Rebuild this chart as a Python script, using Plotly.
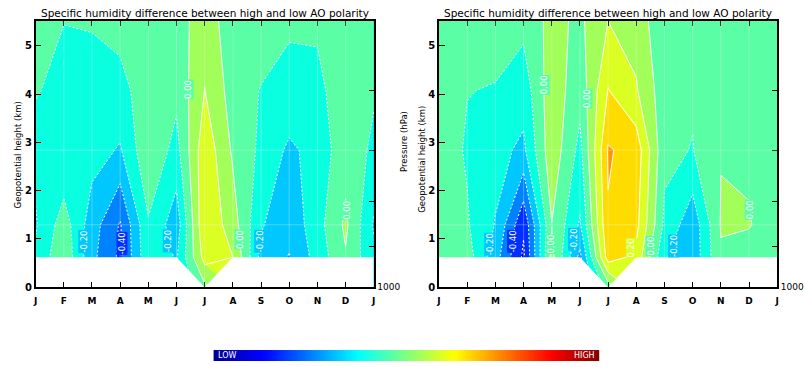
import numpy as np
import plotly.graph_objects as go

# ---------------------------------------------------------------- data
months = ["J", "F", "M", "A", "M", "J", "J", "A", "S", "O", "N", "D", "J"]
pressure_levels = [1000, 925, 850, 700, 600, 500]          # hPa, rows of the grids
pressure_ticks = [1000, 900, 800, 700, 600]                # right-hand axis ticks
pressure_tick_text = ["1000", "", "", "", ""]
height_ticks = [0, 1, 2, 3, 4, 5]                          # km
surface_pressure = [925, 925, 925, 925, 925, 925, 1000, 925, 925, 925, 925, 925, 925]

# specific humidity difference (high minus low AO), left panel
left_1000 = [-0.18, -0.02, -0.274, -0.42, -0.12, -0.21, -0.02, 0.10, -0.23, -0.305, -0.159, -0.01, -0.18]
left_925 = [-0.18, -0.02, -0.274, -0.42, -0.12, -0.21, 0.14, 0.10, -0.23, -0.305, -0.159, -0.01, -0.18]
left_850 = [-0.21, -0.05, -0.253, -0.41, -0.11, -0.258, 0.19, 0.047, -0.19, -0.27, -0.14, 0.02, -0.21]
left_700 = [-0.17, -0.19, -0.16, -0.21, -0.02, -0.134, 0.17, -0.015, -0.121, -0.22, -0.163, -0.037, -0.12]
left_600 = [-0.088, -0.15, -0.15, -0.13, -0.05, -0.076, 0.102, -0.044, -0.105, -0.125, -0.13, -0.03, -0.089]
left_500 = [-0.05, -0.097, -0.09, -0.069, -0.04, -0.05, 0.06, -0.062, -0.05, -0.089, -0.082, -0.04, -0.05]

# right panel
right_1000 = [-0.06, -0.053, -0.257, -0.52, 0.03, -0.33, -0.05, 0.17, -0.19, -0.27, -0.0094, -0.045, -0.06]
right_925 = [-0.06, -0.053, -0.257, -0.52, 0.03, -0.33, 0.25, 0.17, -0.19, -0.27, -0.0094, -0.045, -0.06]
right_850 = [-0.06, -0.09, -0.205, -0.483, -0.002, -0.211, 0.291, 0.23, -0.12, -0.267, 0.006, 0.0067, -0.06]
right_700 = [-0.05, -0.11, -0.17, -0.22, 0.066, -0.13, 0.31, 0.26, -0.077, -0.104, -0.003, -0.014, -0.05]
right_600 = [-0.05, -0.098, -0.105, -0.16, 0.062, -0.065, 0.205, 0.11, -0.06, -0.089, -0.04, -0.04, -0.05]
right_500 = [-0.05, -0.08, -0.065, -0.07, 0.03, -0.02, 0.10, 0.06, -0.08, -0.06, -0.05, -0.05, -0.05]

# contour labels: (level, height in km, approximate month index)
left_labels = [(-0.2, 0.95, 1.9), (-0.4, 0.9, 3.0), (-0.2, 0.95, 4.5), (0.0, 1.0, 7.0),
               (-0.2, 0.95, 8.1), (0.0, 4.1, 5.5), (0.0, 1.6, 11.2)]
right_labels = [(-0.2, 0.9, 1.9), (-0.4, 0.95, 2.9), (0.0, 0.9, 3.9), (-0.2, 1.0, 4.8),
                (0.2, 0.8, 7.2), (0.0, 0.85, 7.5), (-0.2, 0.85, 8.2), (0.0, 4.2, 3.6),
                (0.0, 3.9, 5.2), (0.0, 1.6, 10.6)]

TITLE = "Specific humidity difference between high and low AO polarity"

# ---------------------------------------------------------------- helpers
SCALE_HEIGHT = 7.96  # km, pressure -> geopotential height


def to_height(p):
    return SCALE_HEIGHT * np.log(1000.0 / np.asarray(p, dtype=float))


heights = to_height(pressure_levels)
top = float(heights[-1])
x_idx = np.arange(len(months))
surface = to_height(surface_pressure)

LEVEL_START, LEVEL_END, LEVEL_STEP = -0.5, 0.3, 0.1
band_colors = ["#0000dc", "#0030ff", "#0082ff", "#00c8ff", "#0affe1",
               "#5affa5", "#a2ff5a", "#dcff23", "#ffdc00", "#ff9600"]
band_scale = [[k / (len(band_colors) - 1), c] for k, c in enumerate(band_colors)]

jet = [[0.0, "rgb(0,0,140)"], [0.12, "rgb(0,0,255)"], [0.14, "rgb(0,10,255)"],
       [0.375, "rgb(0,255,255)"], [0.5, "rgb(128,255,128)"], [0.625, "rgb(255,255,0)"],
       [0.875, "rgb(255,0,0)"], [1.0, "rgb(128,0,0)"]]

W, H = 804, 367          # figure size
GRID_W, GRID_H = 799, 362  # pixel grid used to place panels and text
FONT = "DejaVu Sans"


def fx(px):
    return px / GRID_W


def fy(py):
    return max(0.0, 1.0 - py / GRID_H)


def band_color(value):
    k = int(np.floor((value - LEVEL_START) / LEVEL_STEP + 1e-9)) + 1
    return band_colors[min(max(k, 0), len(band_colors) - 1)]


def label_x(z, level, h, guess):
    """Month position where the interpolated field at height h crosses level."""
    row = np.array([np.interp(h, heights, z[:, j]) for j in range(z.shape[1])])
    best = guess
    best_d = np.inf
    for i in range(len(row) - 1):
        a, b = row[i] - level, row[i + 1] - level
        if a == b or a * b > 0:
            continue
        xc = i + a / (a - b)
        if abs(xc - guess) < best_d:
            best, best_d = xc, abs(xc - guess)
    return best


panels = [
    dict(grid=[left_1000, left_925, left_850, left_700, left_600, left_500],
         labels=left_labels, xa="x", ya="y", ya2="y2", px=(33, 375)),
    dict(grid=[right_1000, right_925, right_850, right_700, right_600, right_500],
         labels=right_labels, xa="x2", ya="y3", ya2="y4", px=(441, 783)),
]

fig = go.Figure()
shapes = []
annotations = []

for pnl in panels:
    z = np.array(pnl["grid"], dtype=float)
    xa, ya = pnl["xa"], pnl["ya"]

    # filled bands
    fig.add_trace(go.Contour(
        x=x_idx, y=heights, z=z, xaxis=xa, yaxis=ya,
        autocontour=False, colorscale=band_scale, showscale=False,
        contours=dict(start=LEVEL_START, end=LEVEL_END, size=LEVEL_STEP,
                      coloring="fill", showlines=False),
        line=dict(width=0, smoothing=0), hoverinfo="skip"))

    # contour lines: dashed for negative levels, solid otherwise
    for start, end, dash in [(-0.5, -0.1, "2px,2px"), (0.0, 0.3, "solid")]:
        fig.add_trace(go.Contour(
            x=x_idx, y=heights, z=z, xaxis=xa, yaxis=ya,
            autocontour=False, showscale=False,
            contours=dict(start=start, end=end, size=LEVEL_STEP, coloring="none",
                          showlines=True),
            line=dict(color="white", width=1, dash=dash, smoothing=0),
            hoverinfo="skip"))

    # faint grid seams along months and the 850/700 hPa rows
    for i, xm in enumerate(x_idx[1:-1], start=1):
        shapes.append(dict(type="line", xref=xa, yref=ya, x0=xm, x1=xm,
                           y0=surface[i], y1=top, layer="above",
                           line=dict(color="rgba(255,255,255,0.28)", width=1)))
    for p in (850, 700):
        hy = float(to_height(p))
        shapes.append(dict(type="line", xref=xa, yref=ya, x0=0, x1=12,
                           y0=hy, y1=hy, layer="above",
                           line=dict(color="rgba(255,255,255,0.28)", width=1)))

    # no data below the lowest available pressure level
    fig.add_trace(go.Scatter(
        x=x_idx, y=surface, xaxis=xa, yaxis=ya, mode="lines",
        line=dict(width=0, color="white"), fill="tozeroy", fillcolor="white",
        hoverinfo="skip", showlegend=False))

    # dummy trace so the pressure axis is drawn
    fig.add_trace(go.Scatter(x=[0], y=[0], xaxis=xa, yaxis=pnl["ya2"], mode="markers",
                             marker=dict(opacity=0), hoverinfo="skip", showlegend=False))

    # contour labels, written along the line
    for level, h, guess in pnl["labels"]:
        annotations.append(dict(
            text=f"{level:.2f}", x=label_x(z, level, h, guess), y=h, xref=xa, yref=ya,
            showarrow=False, textangle=-90, xanchor="center", yanchor="middle",
            bgcolor=band_color(level - 0.05), borderpad=0,
            font=dict(family=FONT, size=8.5, color="white")))

# colour key
fig.add_trace(go.Heatmap(z=[np.linspace(0, 1, 300)], x=np.linspace(0, 1, 300), y=[0],
                         colorscale=jet, showscale=False, xaxis="x3", yaxis="y5",
                         hoverinfo="skip"))


def xaxis_cfg(px):
    return dict(domain=[fx(px[0]), fx(px[1])], range=[0, 12], tickvals=x_idx, ticktext=months,
                ticks="inside", ticklen=5, tickwidth=1, tickcolor="black",
                showline=True, linecolor="black", linewidth=1.5, mirror="ticks",
                showgrid=False, zeroline=False, ticklabelstandoff=4,
                tickfont=dict(family=FONT, size=9, color="black", weight="bold"))


ydom = [fy(288), fy(21)]


def yaxis_cfg(anchor):
    return dict(domain=ydom, anchor=anchor, range=[0, top], tickvals=height_ticks,
                ticks="inside", ticklen=6, tickwidth=1, tickcolor="black",
                showline=True, linecolor="black", linewidth=1.5,
                showgrid=False, zeroline=False,
                tickfont=dict(family=FONT, size=10, color="black", weight="bold"))


def paxis_cfg(anchor, over):
    return dict(overlaying=over, side="right", anchor=anchor, range=[0, top],
                tickvals=to_height(pressure_ticks), ticktext=pressure_tick_text,
                ticks="inside", ticklen=5, tickwidth=1, tickcolor="black",
                showline=True, linecolor="black", linewidth=1.5,
                showgrid=False, zeroline=False,
                tickfont=dict(family=FONT, size=9, color="black"))


for pnl in panels:
    cx = fx((pnl["px"][0] + pnl["px"][1]) / 2)
    annotations.append(dict(text=TITLE, x=cx, y=fy(13), xref="paper", yref="paper",
                            showarrow=False, xanchor="center", yanchor="middle",
                            font=dict(family=FONT, size=10.5, color="black")))

for text, xp, yp in [("Geopotential height (km)", 15, 155),
                     ("Pressure (hPa)", 405, 142),
                     ("Geopotential height (km)", 423, 160)]:
    annotations.append(dict(text=text, x=fx(xp), y=fy(yp), xref="paper", yref="paper",
                            showarrow=False, textangle=-90, xanchor="center", yanchor="middle",
                            font=dict(family=FONT, size=8.5, color="black")))

annotations.append(dict(text="LOW", x=fx(215), y=fy(356), xref="paper", yref="paper",
                        showarrow=False, xanchor="left", yanchor="middle",
                        font=dict(family=FONT, size=8, color="white")))
annotations.append(dict(text="HIGH", x=fx(601), y=fy(356), xref="paper", yref="paper",
                        showarrow=False, xanchor="right", yanchor="middle",
                        font=dict(family=FONT, size=8, color="white")))

fig.update_layout(
    width=W, height=H, margin=dict(l=0, r=0, t=0, b=0),
    paper_bgcolor="white", plot_bgcolor="white", showlegend=False,
    xaxis=xaxis_cfg(panels[0]["px"]), yaxis=yaxis_cfg("x"), yaxis2=paxis_cfg("x", "y"),
    xaxis2=xaxis_cfg(panels[1]["px"]), yaxis3=yaxis_cfg("x2"), yaxis4=paxis_cfg("x2", "y3"),
    xaxis3=dict(domain=[fx(213), fx(603)], range=[0, 1], visible=False, anchor="y5"),
    yaxis5=dict(domain=[0, fy(351)], range=[-0.5, 0.5], visible=False, anchor="x3"),
    shapes=shapes, annotations=annotations,
)

fig.write_html("out.html")
